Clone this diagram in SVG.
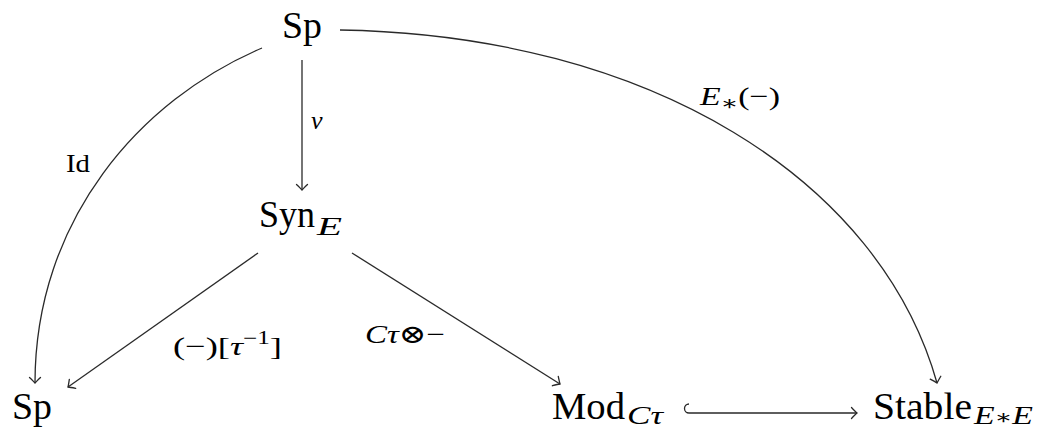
<svg xmlns="http://www.w3.org/2000/svg" width="1037" height="431" viewBox="0 0 1037 431">
<style>
.node{font-family:"Liberation Serif","DejaVu Serif",serif;font-size:38px;fill:#000}
.sub{font-family:"Liberation Serif","DejaVu Serif",serif;font-size:26px;font-style:italic;fill:#000}
.lbl{font-family:"Liberation Serif","DejaVu Serif",serif;font-size:26px;fill:#000}
.it{font-style:italic}
.edge{fill:none;stroke:#2a2a2a;stroke-width:1.3}
</style>
<defs>
<marker id="to" viewBox="-7 -7 9 14" markerWidth="9" markerHeight="14" refX="0" refY="0" orient="auto" markerUnits="userSpaceOnUse">
<path d="M -5.5 -5.5 Q -1.5 -1.3 0 0 Q -1.5 1.3 -5.5 5.5" fill="none" stroke="#2a2a2a" stroke-width="1.3" stroke-linecap="round"/>
</marker>
</defs>
<g id="connectors">
<path class="edge" d="M 302 60 L 302 190" marker-end="url(#to)"/>
<path class="edge" d="M 262 48 C 140 100, 35 220, 35 383" marker-end="url(#to)"/>
<path class="edge" d="M 340 30 C 650 35, 880 180, 937 383" marker-end="url(#to)"/>
<path class="edge" d="M 258 253 L 68 387" marker-end="url(#to)"/>
<path class="edge" d="M 352 253 L 560 384" marker-end="url(#to)"/>
<path class="edge" d="M 689 404 A 4.5 4.5 0 0 0 689 413 L 857 413" marker-end="url(#to)"/>
<text class="lbl it" x="311" y="129" font-size="28">ν</text>
<text class="lbl" x="66" y="172" textLength="24" lengthAdjust="spacingAndGlyphs">Id</text>
<text class="lbl" x="700" y="105" textLength="80" lengthAdjust="spacingAndGlyphs"><tspan class="it">E</tspan><tspan font-size="20" dy="5">∗</tspan><tspan dy="-5">(−)</tspan></text>
<text class="lbl" x="173" y="355" textLength="109" lengthAdjust="spacingAndGlyphs">(−)[<tspan class="it">τ</tspan><tspan font-size="18" dy="-11">−1</tspan><tspan dy="11">]</tspan></text>
<text class="lbl" x="365" y="343" textLength="80" lengthAdjust="spacingAndGlyphs"><tspan class="it">Cτ</tspan>⊗−</text>
</g>
<g id="node-sp-top"><text class="node" x="282" y="38" textLength="40" lengthAdjust="spacingAndGlyphs">Sp</text></g>
<g id="node-syn"><text class="node" x="259" y="227" textLength="56" lengthAdjust="spacingAndGlyphs">Syn</text><text class="sub" x="317" y="235" textLength="25" lengthAdjust="spacingAndGlyphs">E</text></g>
<g id="node-sp-bottom"><text class="node" x="12" y="419" textLength="40" lengthAdjust="spacingAndGlyphs">Sp</text></g>
<g id="node-mod"><text class="node" x="552" y="419" textLength="73" lengthAdjust="spacingAndGlyphs">Mod</text><text class="sub" x="627" y="424" textLength="36" lengthAdjust="spacingAndGlyphs">Cτ</text></g>
<g id="node-stable"><text class="node" x="873" y="419" textLength="99" lengthAdjust="spacingAndGlyphs">Stable</text><text class="sub" x="974" y="424" textLength="59" lengthAdjust="spacingAndGlyphs">E<tspan font-size="20">∗</tspan>E</text></g>
</svg>
